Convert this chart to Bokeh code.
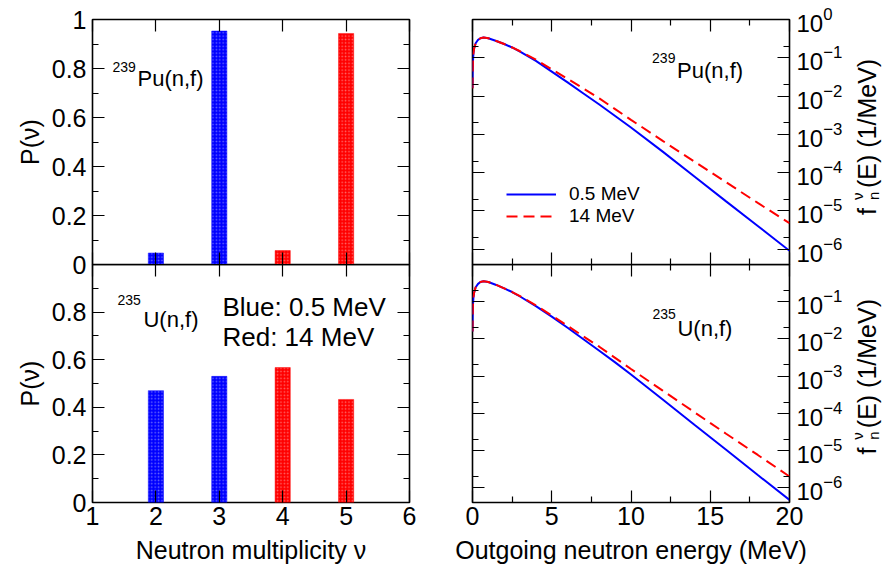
from bokeh.plotting import figure
from bokeh.layouts import column, row
from bokeh.models import (LinearAxis, LogAxis, FixedTicker, NumeralTickFormatter,
                          Label, Range1d)
from bokeh.embed import file_html
from bokeh.resources import INLINE

FONT = "Liberation Sans"

# ---- neutron multiplicity distributions P(nu) ----
nu_blue = [2, 3]          # 0.5 MeV incident neutrons
nu_red = [4, 5]           # 14 MeV incident neutrons
pu_p_blue = [0.047, 0.953]
pu_p_red = [0.057, 0.943]
u_p_blue = [0.470, 0.530]
u_p_red = [0.567, 0.433]

# ---- outgoing neutron spectra f_n(E) in 1/MeV ----
energy = [0.002, 0.01, 0.03, 0.06, 0.1, 0.2, 0.35, 0.5, 0.7, 1.0, 1.5, 2.0, 2.5,
          3.0, 4.0, 5.0, 6.0, 7.0, 8.0, 9.0, 10.0, 12.0, 14.0, 16.0, 18.0, 20.0]
pu_spec_low = [0.0166, 0.0380, 0.0832, 0.132, 0.174, 0.240, 0.295, 0.324, 0.339,
               0.324, 0.275, 0.229, 0.186, 0.145, 0.0832, 0.0437, 0.0229, 0.0117,
               6.03e-3, 3.02e-3, 1.51e-3, 3.55e-4, 7.94e-5, 1.78e-5, 4.07e-6, 9.12e-7]
pu_spec_high = [0.0158, 0.0372, 0.0832, 0.132, 0.174, 0.240, 0.295, 0.324, 0.339,
                0.324, 0.275, 0.229, 0.186, 0.148, 0.0891, 0.0501, 0.0282, 0.0158,
                8.71e-3, 4.57e-3, 2.40e-3, 6.76e-4, 1.95e-4, 5.62e-5, 1.62e-5, 4.79e-6]
u_spec_low = [0.0158, 0.0372, 0.0832, 0.132, 0.174, 0.245, 0.302, 0.339, 0.355,
              0.339, 0.282, 0.229, 0.182, 0.138, 0.0759, 0.0398, 0.0200, 9.77e-3,
              4.79e-3, 2.34e-3, 1.10e-3, 2.34e-4, 4.90e-5, 1.05e-5, 2.19e-6, 4.68e-7]
u_spec_high = [0.0158, 0.0372, 0.0832, 0.132, 0.174, 0.245, 0.302, 0.339, 0.355,
               0.339, 0.282, 0.229, 0.182, 0.141, 0.0794, 0.0427, 0.0224, 0.0117,
               6.17e-3, 3.09e-3, 1.55e-3, 4.07e-4, 1.07e-4, 2.82e-5, 7.59e-6, 2.00e-6]

# ---- tick positions ----
nu_ticks = [1, 2, 3, 4, 5, 6]
p_ticks_top = [0, 0.2, 0.4, 0.6, 0.8, 1.0]
p_ticks_bottom = [0, 0.2, 0.4, 0.6, 0.8]
p_minor = [0.1, 0.3, 0.5, 0.7, 0.9]
e_ticks = [0, 5, 10, 15, 20]
e_minor = [2.5, 7.5, 12.5, 17.5]
f_ticks_top = [1e-6, 1e-5, 1e-4, 1e-3, 1e-2, 1e-1, 1e0]
f_ticks_bottom = [1e-6, 1e-5, 1e-4, 1e-3, 1e-2, 1e-1]
f_minor = [2e-6, 2e-5, 2e-4, 2e-3, 2e-2, 2e-1]

BLUE = "#0000ff"
RED = "#ff0000"

FRAME_H = 245
OVERLAP = 13   # lower row slides up under the upper row's bottom border


def style_axis(ax, show_labels):
    ax.major_tick_in = 12
    ax.major_tick_out = 0
    ax.minor_tick_in = 6
    ax.minor_tick_out = 0
    ax.major_tick_line_color = "black"
    ax.minor_tick_line_color = "black"
    ax.major_tick_line_width = 1.2
    ax.minor_tick_line_width = 1.2
    ax.axis_line_color = None
    ax.major_label_text_font = FONT
    ax.major_label_text_font_size = "25px"
    ax.axis_label_text_font = FONT
    ax.axis_label_text_font_size = "25px"
    ax.axis_label_text_font_style = "normal"
    ax.axis_label_text_color = "black"
    if show_labels:
        ax.major_label_text_color = "black"
    else:
        # ticks only: no labels, so the side panel takes no room
        ax.major_label_text_color = None
        ax.major_label_standoff = 0
        ax.axis_label_standoff = 0


def make_fig(width, height, xr, yr, borders, log_y=False, clear=False):
    left, right, top, bottom = borders
    p = figure(width=width, height=height, x_range=xr, y_range=yr,
               y_axis_type="log" if log_y else "linear",
               x_axis_location=None, y_axis_location=None,
               output_backend="svg", toolbar_location=None,
               min_border_left=left, min_border_right=right,
               min_border_top=top, min_border_bottom=bottom)
    p.grid.visible = False
    p.outline_line_color = "black"
    p.outline_line_width = 1.6
    if clear:
        p.background_fill_alpha = 0
        p.border_fill_alpha = 0
    else:
        p.background_fill_color = "white"
        p.border_fill_color = "white"
    return p


def add_axes(p, kind, xt, xminor, yt, yminor, label_bottom, label_left, label_right):
    xtk = FixedTicker(ticks=xt, minor_ticks=xminor)
    ytk = FixedTicker(ticks=yt, minor_ticks=yminor)
    bottom = LinearAxis(ticker=xtk)
    top = LinearAxis(ticker=xtk)
    if kind == "log":
        left = LogAxis(ticker=ytk)
        right = LogAxis(ticker=ytk)
    else:
        left = LinearAxis(ticker=ytk, formatter=NumeralTickFormatter(format="0.[0]"))
        right = LinearAxis(ticker=ytk)
    style_axis(bottom, label_bottom)
    style_axis(top, False)
    style_axis(left, label_left)
    style_axis(right, label_right)
    if label_bottom:
        bottom.major_label_standoff = 4
        bottom.axis_label_standoff = 8
    if label_left:
        left.major_label_standoff = 6
    if label_right:
        right.major_label_standoff = 7
        right.major_label_text_font_size = "24px"
    p.add_layout(bottom, "below")
    p.add_layout(top, "above")
    p.add_layout(left, "left")
    p.add_layout(right, "right")
    return bottom, left


def bars(p, blue_vals, red_vals):
    for xs, ys, col in ((nu_blue, blue_vals, BLUE), (nu_red, red_vals, RED)):
        p.vbar(x=xs, top=ys, width=0.24, bottom=0, fill_color=col, line_color=col,
               line_alpha=0.45, hatch_pattern="dot", hatch_color="white",
               hatch_alpha=0.4, hatch_scale=3.4, hatch_weight=1)


def text(p, x, y, s, size, **kw):
    p.add_layout(Label(x=x, y=y, text=s, text_font=FONT, text_font_size=size,
                       text_color="black", text_align="left",
                       text_baseline="alphabetic", **kw))


def nuclide(p, x_sup, y_sup, x_main, y_main, mass, rest):
    text(p, x_sup, y_sup, mass, "14px")
    text(p, x_main, y_main, rest, "22px")


def label_strip(height, top, bottom, clear):
    # narrow strip right of a spectrum panel holding the rotated
    # "f_n^nu(E) (1/MeV)" axis title, reading upward
    s = figure(width=45, height=height, x_range=Range1d(0, 45),
               y_range=Range1d(0, FRAME_H), x_axis_location=None,
               y_axis_location=None, output_backend="svg", toolbar_location=None,
               min_border_left=0, min_border_right=0,
               min_border_top=top, min_border_bottom=bottom)
    s.grid.visible = False
    s.outline_line_color = None
    s.background_fill_alpha = 0
    s.border_fill_alpha = 0 if clear else 1
    s.border_fill_color = "white"
    c = FRAME_H / 2.0
    rot = dict(angle=90, angle_units="deg")
    text(s, 21, c - 73, "f", "25px", **rot)
    text(s, 12, c - 58, "ν", "15px", **rot)
    text(s, 28, c - 58, "n", "15px", **rot)
    text(s, 21, c - 46, "(E) (1/MeV)", "25px", **rot)
    return s


TOP_H = 19 + FRAME_H + OVERLAP
BOT_H = FRAME_H + 57

# ---------- top-left: 239Pu multiplicity ----------
p_tl = make_fig(440, TOP_H, Range1d(1, 6), Range1d(0, 1), (92, 31, 19, OVERLAP))
bars(p_tl, pu_p_blue, pu_p_red)
_, ax = add_axes(p_tl, "lin", nu_ticks, [], p_ticks_top, p_minor, False, True, False)
ax.axis_label = "P(ν)"
nuclide(p_tl, 1.315, 0.808, 1.71, 0.759, "239", "Pu(n,f)")

# ---------- bottom-left: 235U multiplicity ----------
p_bl = make_fig(440, BOT_H, Range1d(1, 6), Range1d(0, 1), (92, 31, 0, 57), clear=True)
bars(p_bl, u_p_blue, u_p_red)
axb, ax = add_axes(p_bl, "lin", nu_ticks, [], p_ticks_bottom, p_minor, True, True, False)
ax.axis_label = "P(ν)"
axb.axis_label = "Neutron multiplicity ν"
nuclide(p_bl, 1.394, 0.849, 1.804, 0.771, "235", "U(n,f)")
text(p_bl, 3.05, 0.823, "Blue: 0.5 MeV", "26px")
text(p_bl, 3.05, 0.694, "Red: 14 MeV", "26px")

# ---------- top-right: 239Pu spectra ----------
p_tr = make_fig(405, TOP_H, Range1d(0, 20), Range1d(4e-7, 1.0), (32, 56, 19, OVERLAP),
                log_y=True)
p_tr.line(energy, pu_spec_low, line_color=BLUE, line_width=2, legend_label="0.5 MeV")
p_tr.line(energy, pu_spec_high, line_color=RED, line_width=2, line_dash="11 6",
          legend_label="14 MeV")
add_axes(p_tr, "log", e_ticks, e_minor, f_ticks_top, f_minor, False, False, True)
nuclide(p_tr, 11.33, 0.1017, 12.91, 0.0458, "239", "Pu(n,f)")
lg = p_tr.legend[0]
lg.location = (34, 37)
lg.border_line_color = None
lg.background_fill_alpha = 0
lg.padding = 0
lg.margin = 0
lg.spacing = 0
lg.glyph_width = 50
lg.glyph_height = 22
lg.label_height = 22
lg.label_standoff = 13
lg.label_text_font = FONT
lg.label_text_font_size = "19px"
lg.label_text_color = "black"

# ---------- bottom-right: 235U spectra ----------
p_br = make_fig(405, BOT_H, Range1d(0, 20), Range1d(4e-7, 1.0), (32, 56, 0, 57),
                log_y=True, clear=True)
p_br.line(energy, u_spec_low, line_color=BLUE, line_width=2)
p_br.line(energy, u_spec_high, line_color=RED, line_width=2, line_dash="11 6")
axb, _ = add_axes(p_br, "log", e_ticks, e_minor, f_ticks_bottom, f_minor, True, False, True)
axb.axis_label = "Outgoing neutron energy (MeV)"
nuclide(p_br, 11.35, 0.0455, 12.93, 0.0192, "235", "U(n,f)")

strip_top = label_strip(TOP_H, 19, OVERLAP, False)
strip_bot = label_strip(BOT_H, 0, 57, True)

layout = column(row(p_tl, p_tr, strip_top),
                row(p_bl, p_br, strip_bot, margin=(-OVERLAP, 0, 0, 0)))
open("out.html", "w").write(file_html(layout, INLINE))
